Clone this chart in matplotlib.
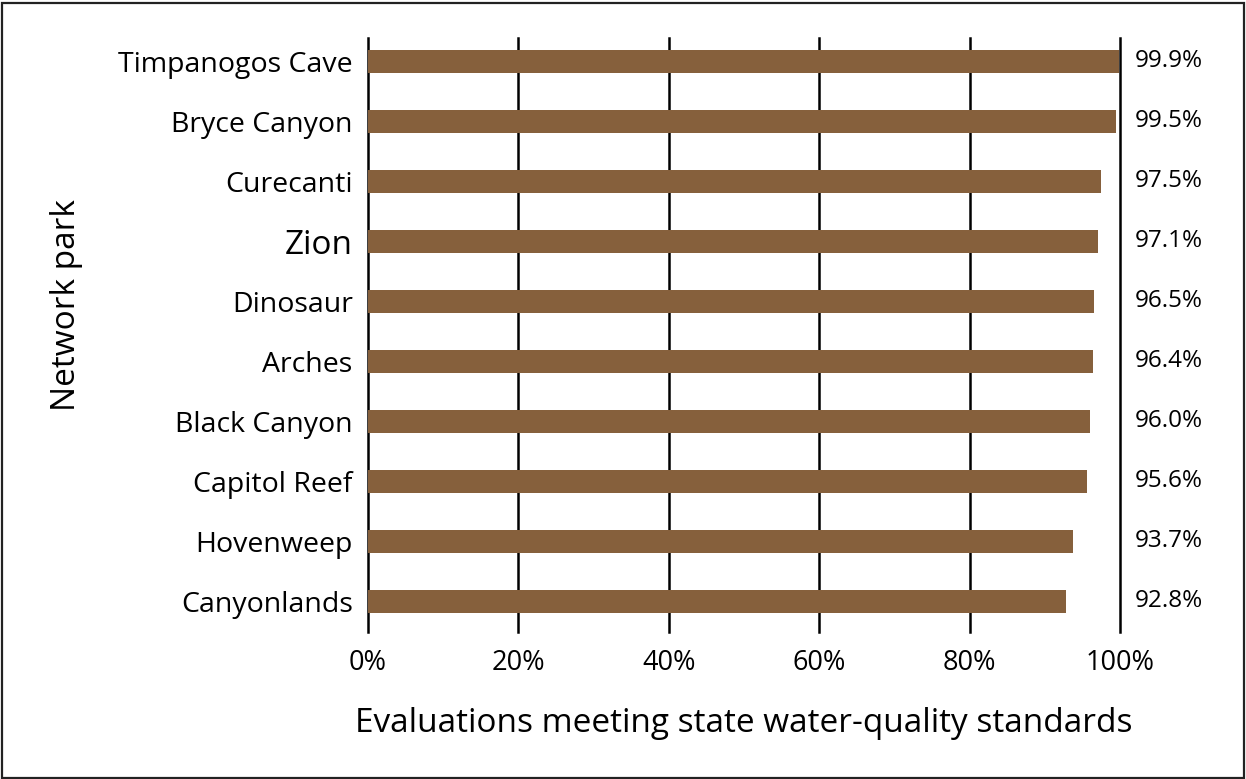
import matplotlib
matplotlib.use("Agg")
import matplotlib.pyplot as plt
from matplotlib.patches import Rectangle

parks = ["Timpanogos Cave", "Bryce Canyon", "Curecanti", "Zion", "Dinosaur",
         "Arches", "Black Canyon", "Capitol Reef", "Hovenweep", "Canyonlands"]
pct = [99.9, 99.5, 97.5, 97.1, 96.5, 96.4, 96.0, 95.6, 93.7, 92.8]
xticks = [0, 20, 40, 60, 80, 100]
xtick_labels = ["0%", "20%", "40%", "60%", "80%", "100%"]

plt.rcParams['font.family'] = ['Open Sans', 'DejaVu Sans']
bar_color = "#86603C"

fig = plt.figure(figsize=(12.46, 7.79), dpi=100)
W, H = 1246, 779
ax = fig.add_axes([368 / W, (H - 632) / H, (1120 - 368) / W, (632 - 38) / H])

ypos = list(range(len(parks)))
ax.barh(ypos, pct, height=0.38, color=bar_color, zorder=3)
ax.set_xlim(0, 100)
ax.set_ylim(9.51, -0.39)

ax.set_xticks(xticks)
ax.set_xticklabels(xtick_labels, fontsize=19.5)
ax.set_yticks(ypos)
ax.set_yticklabels(parks, fontsize=20.5)
for lbl in ax.get_yticklabels():
    if lbl.get_text() == "Zion":
        lbl.set_fontsize(24)
ax.tick_params(axis='y', length=0, pad=11)
ax.tick_params(axis='x', length=0, pad=12)

for x in xticks:
    ax.axvline(x, color="black", lw=1.8, zorder=2, clip_on=False)
for s in ax.spines.values():
    s.set_visible(False)

for y, v in zip(ypos, pct):
    ax.annotate(f"{v:.1f}%", xy=(100, y), xytext=(15, 0), textcoords="offset pixels",
                ha="left", va="center", fontsize=17.5)

ax.set_xlabel("Evaluations meeting state water-quality standards", fontsize=24, labelpad=22)
ax.set_ylabel("Network park", fontsize=24)
# put the y label where the reference has it (a little above centre)
ax.yaxis.set_label_coords(-(368 - 83) / (1120 - 368), (632 - 305) / (632 - 38))

fig.patches.append(Rectangle((1.5 / W, 1.5 / H), (W - 4) / W, (H - 4) / H,
                             transform=fig.transFigure, fill=False,
                             edgecolor="#222222", lw=1.6))

fig.savefig("out.png", dpi=100)
